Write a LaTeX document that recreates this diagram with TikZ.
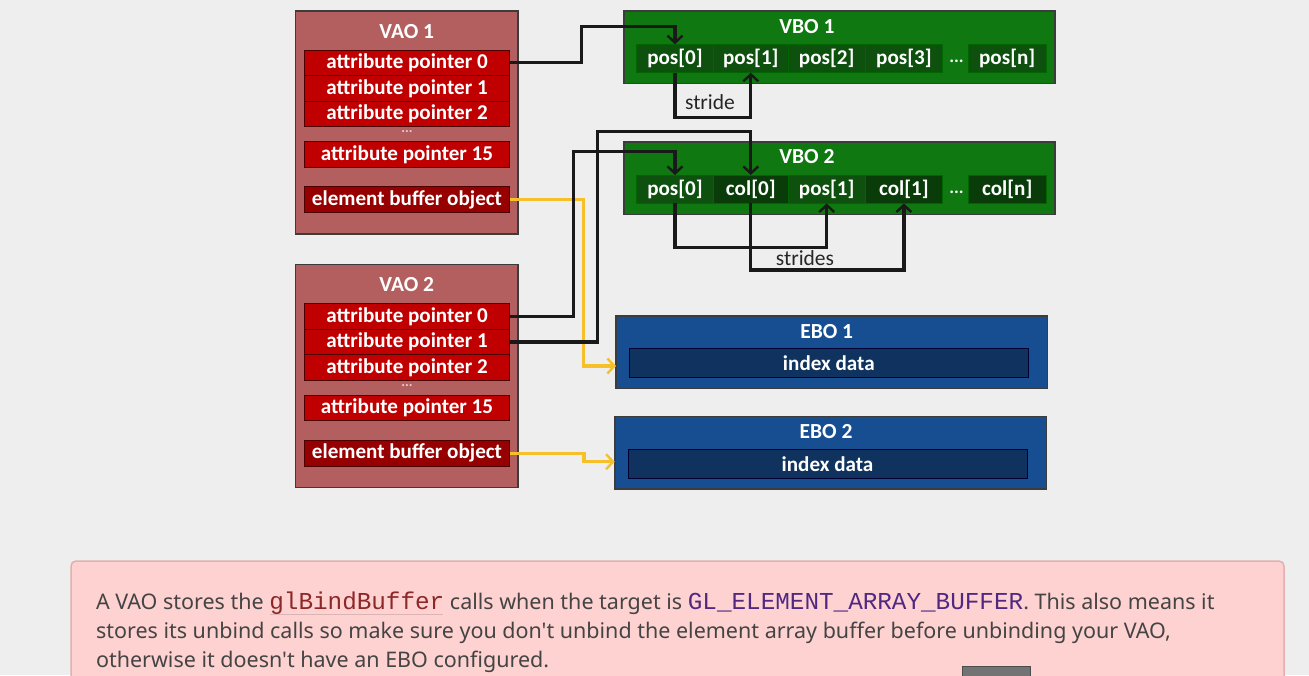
\documentclass[tikz,border=0pt]{standalone}
\usepackage{fontspec}
\setmainfont{Carlito}
\newfontfamily\notefont{Noto Sans}
\newfontfamily\codefont{Liberation Mono}
\usetikzlibrary{arrows.meta}
\definecolor{bgc}{RGB}{238,238,238}
\definecolor{vaofill}{RGB}{180,95,95}
\definecolor{rowred}{RGB}{192,0,0}
\definecolor{ebored}{RGB}{150,0,0}
\definecolor{vbofill}{RGB}{16,120,16}
\definecolor{poscell}{RGB}{14,80,14}
\definecolor{colcell}{RGB}{9,60,9}
\definecolor{ebofill}{RGB}{22,78,145}
\definecolor{eboin}{RGB}{15,50,95}
\definecolor{edgec}{RGB}{60,60,60}
\definecolor{yel}{RGB}{245,192,42}
\definecolor{notefill}{RGB}{255,210,210}
\definecolor{noteedge}{RGB}{226,176,176}
\definecolor{notetxt}{RGB}{68,68,68}
\definecolor{codered}{RGB}{140,40,40}
\definecolor{codepurple}{RGB}{80,40,130}
\definecolor{dotpink}{RGB}{235,205,205}
\definecolor{codeline}{RGB}{220,180,180}
\begin{document}
\begin{tikzpicture}[x=1pt,y=-1pt,
  every node/.style={inner sep=0pt,outer sep=0pt},
  bigbox/.style={draw=edgec,line width=1.5pt},
  vaobox/.style={bigbox,fill=vaofill,minimum width=222.5pt,minimum height=223pt},
  vbobox/.style={bigbox,fill=vbofill,minimum width=431pt,minimum height=72.5pt},
  ebobox/.style={bigbox,fill=ebofill,minimum width=431.5pt,minimum height=72.5pt},
  title/.style={text=white,font=\bfseries\fontsize{21.5}{24}\selectfont},
  rowbox/.style={draw=black!70!red,line width=1pt,fill=rowred,minimum width=205pt,minimum height=25.5pt,text=white,font=\bfseries\fontsize{21.1}{24}\selectfont},
  eborow/.style={rowbox,fill=ebored},
  cellbox/.style={draw=black!60!green,line width=1pt,fill=poscell,minimum height=28.4pt,text=white,font=\bfseries\fontsize{21.1}{24}\selectfont},
  poscellbox/.style={cellbox,fill=poscell,minimum width=76.6pt},
  colcellbox/.style={cellbox,fill=colcell,minimum width=76.6pt},
  innerbox/.style={draw=black!80!blue,line width=1pt,fill=eboin,minimum width=399pt,minimum height=29.4pt,text=white,font=\bfseries\fontsize{21.1}{24}\selectfont},
  dotsv/.style={text=dotpink,font=\bfseries\fontsize{14}{16}\selectfont},
  dotsg/.style={text=white,font=\bfseries\fontsize{18}{20}\selectfont},
  lab/.style={text=black!85,font=\fontsize{21.5}{24}\selectfont},
  conn/.style={draw=black!90,line width=3.2pt,line join=miter},
  arr/.style={conn,-{Straight Barb[length=7pt,width=15pt,line width=2.4pt]}},
  yarr/.style={draw=yel,line width=3.2pt,-{Straight Barb[length=7pt,width=15pt,line width=2.4pt]}},
  notetext/.style={text=notetxt,align=left,font=\notefont\fontsize{21.5}{29}\selectfont},
  codestyle/.style={}
]
\useasboundingbox (0,0) rectangle (1309,675);
\fill[bgc] (0,0) rectangle (1309,675);

% VAO 1
\node[vaobox] (vao1) at (406.75,122.25) {};
\node[title] (vao1t) at (406.75,31.5) {VAO 1};
\node[rowbox] (a1p0) at (407,62.8) {attribute pointer 0};
\node[rowbox] (a1p1) at (407,88.3) {attribute pointer 1};
\node[rowbox] (a1p2) at (407,113.8) {attribute pointer 2};
\node[dotsv] (a1d) at (407,132) {...};
\node[rowbox] (a1p15) at (407,154.5) {attribute pointer 15};
\node[eborow] (a1e) at (407,199.5) {element buffer object};

% VAO 2
\node[vaobox] (vao2) at (406.75,376.2) {};
\node[title] (vao2t) at (406.75,285) {VAO 2};
\node[rowbox] (a2p0) at (407,316.7) {attribute pointer 0};
\node[rowbox] (a2p1) at (407,342) {attribute pointer 1};
\node[rowbox] (a2p2) at (407,367.3) {attribute pointer 2};
\node[dotsv] (a2d) at (407,386) {...};
\node[rowbox] (a2p15) at (407,408) {attribute pointer 15};
\node[eborow] (a2e) at (407,453.3) {element buffer object};

% VBO 1
\node[vbobox] (vbo1) at (839.5,47.2) {};
\node[title] (vbo1t) at (807,26.7) {VBO 1};
\node[poscellbox] (v1p0) at (675,58.5) {pos[0]};
\node[poscellbox,minimum width=75pt] (v1p1) at (750.8,58.5) {pos[1]};
\node[poscellbox] (v1p2) at (826.7,58.5) {pos[2]};
\node[poscellbox,minimum width=77.7pt] (v1p3) at (903.9,58.5) {pos[3]};
\node[dotsg] (v1d) at (956.5,61) {...};
\node[poscellbox,minimum width=77.7pt] (v1pn) at (1007.2,58.5) {pos[n]};

% VBO 2
\node[vbobox] (vbo2) at (839.5,178) {};
\node[title] (vbo2t) at (807,156.7) {VBO 2};
\node[poscellbox] (v2p0) at (675,189.2) {pos[0]};
\node[colcellbox,minimum width=75pt] (v2c0) at (750.8,189.2) {col[0]};
\node[poscellbox] (v2p1) at (826.7,189.2) {pos[1]};
\node[colcellbox,minimum width=77.7pt] (v2c1) at (903.9,189.2) {col[1]};
\node[dotsg] (v2d) at (956.5,192) {...};
\node[colcellbox,minimum width=77.7pt] (v2cn) at (1007.2,189.2) {col[n]};

% EBO 1
\node[ebobox] (ebo1) at (831.8,352.2) {};
\node[title] (ebo1t) at (826.7,331.2) {EBO 1};
\node[innerbox] (e1d) at (828.8,363) {index data};

% EBO 2
\node[ebobox] (ebo2) at (830.5,452.8) {};
\node[title] (ebo2t) at (826,431.7) {EBO 2};
\node[innerbox] (e2d) at (827.5,463.7) {index data};

% junction coordinates
\coordinate (j1) at (581.7,26.7);
\coordinate (j2) at (573.3,151.7);
\coordinate (j3) at (597.7,131.5);
\coordinate (s1) at (710,117.7);
\coordinate (s2) at (750,247.7);
\coordinate (s3) at (820,270);
\coordinate (y1) at (583.3,366);
\coordinate (y2) at (584,461.7);

% yellow connectors
\draw[yarr] (a1e.east) -| (y1) -- (y1 -| ebo1.west);
\draw[yarr] (a2e.east) -| (y2) -- (y2 -| ebo2.west);

% black connectors
\draw[arr] (a1p0.east) -| (j1) -| (v1p0.north);
\draw[arr] (a2p0.east) -| (j2) -| (v2p0.north);
\draw[arr] (a2p1.east) -| (j3) -| (v2c0.north);
\draw[arr] (v1p0.south) |- (s1) -| (v1p1.south);
\draw[arr] (v2p0.south) |- (s2) -| (v2p1.south);
\draw[arr] (v2c0.south) |- (s3) -| (v2c1.south);

\node[lab] (stride) at (710,102.5) {stride};
\node[lab] (strides) at (805,258.5) {strides};

% note
\draw[noteedge,fill=notefill,line width=1.5pt,rounded corners=5pt] (71,561) rectangle (1284,720);
\draw[codeline,line width=0.8pt] (270,614.5) -- (443,614.5);
\node[notetext,anchor=north west] (note) at (96,592) {A VAO stores the {\codefont\fontsize{24.3}{29}\selectfont\color{codered}glBindBuffer} calls when the target is {\codefont\fontsize{24.3}{29}\selectfont\color{codepurple}GL\_ELEMENT\_ARRAY\_BUFFER}. This also means it\\
stores its unbind calls so make sure you don't unbind the element array buffer before unbinding your VAO,\\
otherwise it doesn't have an EBO configured.};
\fill[black!55,draw=black!70] (962,666) rectangle (1030,690);
\end{tikzpicture}
\end{document}
